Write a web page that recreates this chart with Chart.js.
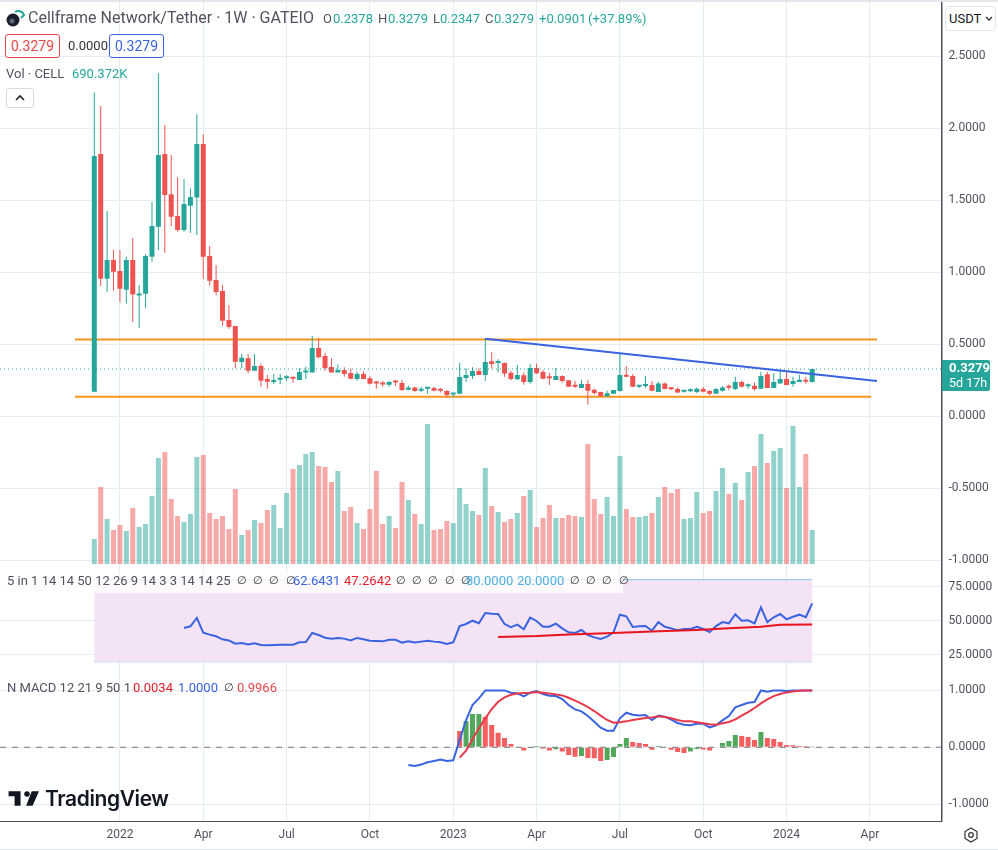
<!DOCTYPE html>
<html>
<head>
<meta charset="utf-8">
<title>Cellframe Network/Tether</title>
<script src="https://cdn.jsdelivr.net/npm/chart.js@4"></script>
<style>
html, body { margin: 0; padding: 0; background: #fff; }
body { width: 998px; height: 850px; position: relative; overflow: hidden; font-family: Roboto, sans-serif; color: #50535e; }
canvas { position: absolute; left: 0; }
.t { position: absolute; white-space: nowrap; line-height: 16px; font-size: 13px; }
.n { font-size: 11px; color: #333; word-spacing: 3.5px; }
.strip { position: absolute; left: 0; width: 998px; background: #e3e6ea; }
.pill { position: absolute; box-sizing: border-box; border: 1px solid; border-radius: 3px; height: 24px; width: 55px; text-align: center; line-height: 22px; font-size: 14px; background: #fff; }
</style>
</head>
<body>
<canvas id="pricePane" width="998" height="562" style="top:2px"></canvas>
<canvas id="rsiPane" width="998" height="108" style="top:564px"></canvas>
<canvas id="macdPane" width="998" height="177" style="top:672px"></canvas>

<div class="strip" style="top:0;height:2px"></div>
<div class="strip" style="top:849px;height:1px"></div>

<svg style="position:absolute;left:5px;top:8px" width="20" height="20" viewBox="0 0 20 20">
  <path d="M10 4 A6 6 0 0 1 19 7 L16 10" fill="none" stroke="#26a69a" stroke-width="2"/>
  <circle cx="8" cy="12" r="6.5" fill="#1c1f2b"/>
  <circle cx="7" cy="13" r="2.5" fill="#5b6478"/>
</svg>
<div class="t" style="left:28px;top:10px;font-size:16px">Cellframe Network/Tether · 1W · GATEIO</div>
<div class="t" style="left:323px;top:11px">O</div><div class="t" style="left:333px;top:11px;color:#26a69a">0.2378</div>
<div class="t" style="left:378px;top:11px">H</div><div class="t" style="left:388px;top:11px;color:#26a69a">0.3279</div>
<div class="t" style="left:433px;top:11px">L</div><div class="t" style="left:440px;top:11px;color:#26a69a">0.2347</div>
<div class="t" style="left:485px;top:11px">C</div><div class="t" style="left:494px;top:11px;color:#26a69a">0.3279</div>
<div class="t" style="left:539px;top:11px;color:#26a69a">+0.0901</div>
<div class="t" style="left:588px;top:11px;color:#26a69a">(+37.89%)</div>

<div class="pill" style="left:5px;top:34px;color:#e5484d;border-color:#e5484d">0.3279</div>
<div class="t" style="left:68px;top:38px;color:#333">0.0000</div>
<div class="pill" style="left:109px;top:34px;color:#3a63e0;border-color:#3a63e0">0.3279</div>

<div class="t" style="left:6px;top:66px">Vol · CELL</div>
<div class="t" style="left:72px;top:66px;color:#26a69a">690.372K</div>
<div style="position:absolute;left:6px;top:88px;width:28px;height:20px;box-sizing:border-box;border:1px solid #d6d8dc;border-radius:3px;background:#fff">
  <svg width="26" height="18" viewBox="0 0 26 18"><path d="M9 11 L13 7 L17 11" fill="none" stroke="#222" stroke-width="1.6"/></svg>
</div>

<div style="position:absolute;left:945px;top:6px;width:51px;height:25px;box-sizing:border-box;border:1px solid #e3e6ea;border-radius:4px;background:#fff"></div>
<div class="t" style="left:949px;top:11px;color:#131722">USDT</div>
<svg style="position:absolute;left:984px;top:15px" width="10" height="8" viewBox="0 0 10 8"><path d="M2 2 L5 5 L8 2" fill="none" stroke="#333" stroke-width="1.4"/></svg>

<div style="position:absolute;left:942px;top:360px;width:48px;height:31px;background:#26a69a;border-radius:0 2px 2px 0"></div>
<div class="t" style="left:949px;top:360px;color:#fff;font-weight:700">0.3279</div>
<div class="t" style="left:949px;top:375px;color:#fff;font-size:12.5px">5d 17h</div>

<div style="position:absolute;left:0;top:573px;width:623px;height:20px;background:rgba(255,255,255,.78)"></div>
<div class="t" style="left:7px;top:573px">5 in 1 14 14 50 12 26 9 14 3 3 14 14 25</div>
<div class="t n" style="left:237px;top:573px">∅ ∅ ∅ ∅</div>
<div class="t" style="left:293px;top:573px;color:#3a63e0">62.6431</div>
<div class="t" style="left:344px;top:573px;color:#e2222c">47.2642</div>
<div class="t n" style="left:396px;top:573px">∅ ∅ ∅ ∅ ∅</div>
<div class="t" style="left:466px;top:573px;color:#4fb0e0">80.0000</div>
<div class="t" style="left:517px;top:573px;color:#4fb0e0">20.0000</div>
<div class="t n" style="left:570px;top:573px">∅ ∅ ∅ ∅</div>

<div class="t" style="left:7px;top:680px">N MACD 12 21 9 50 1</div>
<div class="t" style="left:133px;top:680px;color:#e2222c">0.0034</div>
<div class="t" style="left:178px;top:680px;color:#3a63e0">1.0000</div>
<div class="t n" style="left:224px;top:680px">∅</div>
<div class="t" style="left:237px;top:680px;color:#e5484d">0.9966</div>

<svg style="position:absolute;left:8px;top:786px" width="32" height="24" viewBox="0 0 36 28">
  <path fill="#131722" d="M14 6H0v6h7v11h7V6zm14 17h-7.5L27 6h8.500L28 23zM21.5 6a3.2 3.2 0 1 1 0 6.400a3.2 3.200 0 0 1 0-6.400z"/>
</svg>
<div class="t" style="left:45px;top:787px;color:#131722;font-family:Inter,sans-serif;font-weight:600;font-size:21px;line-height:24px;letter-spacing:-.4px">TradingView</div>

<svg style="position:absolute;left:962px;top:826px" width="18" height="18" viewBox="0 0 18 18">
  <path d="M9 2 L15 5.500 V12.500 L9 16 L3 12.500 V5.500 Z" fill="none" stroke="#333" stroke-width="1.2"/>
  <circle cx="9" cy="9" r="2.300" fill="none" stroke="#333" stroke-width="1.2"/>
</svg>

<script>
const tickIndex = [4, 17, 30, 43, 56, 69, 82, 95, 108, 121];
const tickLabels = ["2022", "Apr", "Jul", "Oct", "2023", "Apr", "Jul", "Oct", "2024", "Apr"];
const priceTicks = [2.5, 2, 1.5, 1, 0.5, 0, -0.5, -1];
const rsiTicks = [75, 50, 25];
const macdTicks = [1, 0, -1];

// weekly candles, first one is dec-21
const opens = [0.17, 1.822, 0.955, 1.085, 1.009, 0.879, 1.085, 0.838, 0.851, 1.108, 1.317, 1.822, 1.542, 1.391, 1.294, 1.463, 1.519, 1.892, 1.113, 0.946, 0.87, 0.668, 0.627, 0.377, 0.402, 0.316, 0.349, 0.258, 0.238, 0.254, 0.263, 0.268, 0.252, 0.303, 0.303, 0.474, 0.418, 0.342, 0.303, 0.321, 0.3, 0.258, 0.293, 0.263, 0.235, 0.228, 0.219, 0.24, 0.231, 0.184, 0.2, 0.177, 0.191, 0.196, 0.184, 0.175, 0.15, 0.156, 0.265, 0.279, 0.314, 0.286, 0.381, 0.37, 0.37, 0.302, 0.256, 0.284, 0.238, 0.335, 0.307, 0.268, 0.252, 0.279, 0.249, 0.212, 0.196, 0.224, 0.184, 0.168, 0.138, 0.156, 0.175, 0.282, 0.279, 0.205, 0.21, 0.217, 0.168, 0.228, 0.196, 0.189, 0.17, 0.173, 0.168, 0.189, 0.175, 0.156, 0.177, 0.205, 0.189, 0.238, 0.208, 0.212, 0.191, 0.291, 0.196, 0.228, 0.258, 0.224, 0.238, 0.252, 0.2378];
const highs = [2.25, 2.155, 1.426, 1.155, 1.155, 1.108, 1.238, 0.912, 1.125, 1.489, 2.385, 2.023, 1.815, 1.66, 1.648, 1.583, 2.098, 1.959, 1.183, 1.05, 0.912, 0.773, 0.627, 0.432, 0.432, 0.432, 0.367, 0.286, 0.293, 0.293, 0.286, 0.275, 0.333, 0.344, 0.557, 0.541, 0.44, 0.402, 0.36, 0.34, 0.332, 0.309, 0.312, 0.279, 0.245, 0.245, 0.247, 0.252, 0.252, 0.212, 0.205, 0.205, 0.196, 0.203, 0.194, 0.182, 0.161, 0.372, 0.333, 0.34, 0.333, 0.541, 0.444, 0.395, 0.374, 0.316, 0.356, 0.302, 0.363, 0.367, 0.321, 0.302, 0.335, 0.284, 0.252, 0.245, 0.252, 0.252, 0.191, 0.17, 0.177, 0.182, 0.437, 0.349, 0.293, 0.219, 0.279, 0.245, 0.24, 0.235, 0.203, 0.2, 0.184, 0.194, 0.2, 0.203, 0.18, 0.194, 0.21, 0.221, 0.275, 0.247, 0.228, 0.235, 0.309, 0.307, 0.298, 0.325, 0.309, 0.275, 0.286, 0.275, 0.3279];
const lows = [0.17, 0.905, 0.863, 0.872, 0.794, 0.782, 0.655, 0.615, 0.752, 1.074, 1.155, 1.136, 1.322, 1.282, 1.282, 1.275, 1.259, 0.955, 0.909, 0.842, 0.629, 0.608, 0.333, 0.333, 0.298, 0.316, 0.205, 0.191, 0.224, 0.224, 0.247, 0.233, 0.252, 0.258, 0.303, 0.402, 0.316, 0.303, 0.303, 0.275, 0.256, 0.247, 0.256, 0.221, 0.191, 0.205, 0.205, 0.21, 0.175, 0.18, 0.168, 0.168, 0.154, 0.173, 0.164, 0.131, 0.133, 0.156, 0.238, 0.258, 0.284, 0.247, 0.333, 0.305, 0.275, 0.249, 0.252, 0.219, 0.226, 0.293, 0.256, 0.217, 0.252, 0.233, 0.203, 0.196, 0.196, 0.08, 0.15, 0.136, 0.133, 0.156, 0.17, 0.272, 0.203, 0.194, 0.196, 0.173, 0.168, 0.187, 0.182, 0.161, 0.163, 0.168, 0.159, 0.166, 0.147, 0.156, 0.17, 0.182, 0.182, 0.2, 0.191, 0.177, 0.191, 0.196, 0.196, 0.228, 0.217, 0.205, 0.238, 0.226, 0.2347];
const closes = [1.808, 0.955, 1.085, 1.004, 0.886, 1.085, 0.845, 0.849, 1.113, 1.322, 1.815, 1.537, 1.386, 1.294, 1.475, 1.523, 1.892, 1.108, 0.942, 0.863, 0.664, 0.62, 0.379, 0.407, 0.316, 0.349, 0.247, 0.24, 0.252, 0.261, 0.268, 0.261, 0.307, 0.309, 0.474, 0.409, 0.333, 0.303, 0.321, 0.293, 0.261, 0.293, 0.258, 0.226, 0.228, 0.221, 0.238, 0.235, 0.182, 0.2, 0.175, 0.191, 0.196, 0.177, 0.177, 0.147, 0.161, 0.272, 0.286, 0.314, 0.286, 0.377, 0.363, 0.374, 0.296, 0.258, 0.286, 0.238, 0.335, 0.298, 0.261, 0.263, 0.279, 0.245, 0.205, 0.205, 0.224, 0.177, 0.161, 0.138, 0.159, 0.182, 0.286, 0.275, 0.205, 0.212, 0.212, 0.177, 0.228, 0.189, 0.187, 0.164, 0.177, 0.177, 0.191, 0.17, 0.156, 0.189, 0.2, 0.198, 0.238, 0.205, 0.212, 0.189, 0.279, 0.196, 0.238, 0.258, 0.217, 0.245, 0.254, 0.24, 0.3279];

// thousands of CELL
const volumes = [508, 1564, 914, 690, 792, 670, 1137, 751, 812, 1381, 2153, 2275, 1320, 975, 853, 1015, 2173, 2214, 1036, 914, 975, 711, 1523, 589, 690, 894, 833, 1097, 1198, 731, 1442, 1929, 2011, 2234, 2275, 1990, 1970, 1665, 1889, 1076, 1158, 833, 711, 1117, 1889, 812, 975, 731, 1665, 1300, 1015, 812, 2843, 690, 711, 873, 833, 1544, 1219, 1076, 995, 1950, 1178, 1056, 853, 914, 1036, 1381, 1503, 751, 934, 1198, 934, 934, 995, 975, 955, 2437, 1320, 1015, 1361, 975, 2193, 1117, 955, 955, 975, 1036, 1361, 1564, 1442, 1523, 914, 934, 1462, 1036, 1076, 1483, 1950, 1422, 1645, 1300, 1869, 1990, 2640, 2051, 2295, 2356, 1544, 2803, 1564, 2234, 690];

const lastPrice = [0.3279];
const topLineX = [-3, 122.1];
const topLineY = [0.533, 0.533];
const bottomLineX = [-3, 121.2];
const bottomLineY = [0.135, 0.135];
const trendLineX = [61, 122.1];
const trendLineY = [0.538, 0.2446];

// rsi starts at bar 14
const rsiStart = 14;
const rsiValues = [44.7, 45.9, 52, 41.3, 39.8, 38.6, 36.4, 35.6, 33.2, 33.7, 32.7, 33.5, 32.2, 32, 32.2, 32.5, 32.5, 32.5, 34.2, 34.4, 41, 39.5, 37.6, 36.9, 37.4, 36.9, 35.6, 37.4, 36.4, 35.4, 35.2, 34.9, 36.1, 36.1, 34, 34.9, 34, 34.7, 35.4, 34.7, 34.2, 33, 34.2, 46.1, 47.6, 50, 48.1, 55.6, 55.1, 54.9, 47.6, 45.2, 47.1, 43.7, 52.2, 49.8, 45.6, 45.6, 47.8, 44.4, 41.5, 41, 43.2, 39.5, 37.8, 36.6, 38.3, 41.5, 54.4, 53.2, 45.4, 45.9, 46.1, 42.7, 49, 45.6, 44.4, 43, 43.9, 43.9, 45.6, 43.9, 41.7, 46.1, 49, 48.1, 54.7, 50, 50.3, 48.1, 59.8, 49, 52.5, 54.9, 51, 52.9, 54.4, 52.5, 62.64];
const rsiAvgX = [63, 69, 74, 81, 88, 94, 99, 104, 107, 112];
const rsiAvgY = [38.1, 38.8, 40, 41, 42.2, 43.2, 44.4, 45.6, 47.1, 47.26];
const rsiBandX = [0, 112];
const rsiBandTop = [80, 80];
const rsiBandBottom = [20, 20];

// macd line starts at bar 49, signal and histogram at bar 57
const macdStart = 49;
const macdValues = [-0.31, -0.327, -0.304, -0.263, -0.24, -0.216, -0.24, -0.228, 0.129, 0.48, 0.743, 0.86, 1, 1, 1, 1, 0.96, 0.947, 0.895, 0.96, 0.988, 0.936, 0.906, 0.9, 0.848, 0.743, 0.667, 0.632, 0.55, 0.45, 0.345, 0.292, 0.292, 0.509, 0.608, 0.573, 0.561, 0.567, 0.48, 0.556, 0.538, 0.485, 0.427, 0.398, 0.386, 0.415, 0.415, 0.351, 0.386, 0.474, 0.55, 0.702, 0.743, 0.784, 0.795, 1, 0.977, 1, 1, 0.988, 0.998, 1, 1, 1];
const signalStart = 57;
const signalValues = [-0.181, -0.058, 0.14, 0.333, 0.509, 0.673, 0.801, 0.877, 0.924, 0.947, 0.953, 0.96, 0.971, 0.959, 0.947, 0.93, 0.912, 0.871, 0.819, 0.766, 0.708, 0.637, 0.556, 0.48, 0.433, 0.439, 0.456, 0.48, 0.497, 0.515, 0.526, 0.544, 0.532, 0.509, 0.48, 0.456, 0.456, 0.439, 0.421, 0.404, 0.398, 0.421, 0.444, 0.491, 0.556, 0.62, 0.69, 0.772, 0.842, 0.9, 0.936, 0.965, 0.982, 0.994, 0.9966, 0.9966];
const histValues = [0.287, 0.462, 0.585, 0.585, 0.538, 0.392, 0.257, 0.164, 0.058, 0.01, -0.058, -0.005, 0.023, -0.023, -0.058, -0.035, -0.076, -0.135, -0.164, -0.152, -0.187, -0.193, -0.24, -0.222, -0.17, 0.058, 0.164, 0.094, 0.076, 0.058, -0.041, 0.023, -0.006, -0.041, -0.082, -0.099, -0.076, -0.03, -0.04, -0.058, -0.006, 0.076, 0.111, 0.216, 0.199, 0.181, 0.129, 0.269, 0.164, 0.146, 0.094, 0.041, 0.038, 0.023, 0.02, 0.0034];
const zeroLineY = [0, 0];

const UP = '#26a69a';
const DOWN = '#ef5350';
const BLUE = '#3a63e0';
const GRID = '#e4edf2';
const TEXT = '#50535e';
const X_MIN = -14.71;
const X_MAX = 132.17;

const points = (xs, ys) => xs.map((x, i) => ({ x: x, y: ys[i] }));
const fromBar = (start, ys) => ys.map((y, i) => ({ x: start + i, y: y }));
const isUp = (i) => closes[i] >= opens[i];

// tick labels must not push the plot area in, panes have to line up
const noPadding = (scale) => {
    scale.paddingTop = 0;
    scale.paddingBottom = 0;
    scale.paddingLeft = 0;
    scale.paddingRight = 0;
};

const lineSet = (data, color, width, extra) => Object.assign({
    type: 'line',
    data: data,
    borderColor: color,
    borderWidth: width,
    pointRadius: 0,
    tension: 0,
    order: 1
}, extra);

const xAxis = (showLabels, borderColor) => ({
    type: 'linear',
    min: X_MIN,
    max: X_MAX,
    offset: false,
    grid: { color: GRID, offset: false, drawTicks: false },
    border: { color: borderColor, width: 1 },
    afterBuildTicks: (scale) => {
        scale.ticks = tickIndex.map(v => ({ value: v }));
    },
    afterFit: (scale) => {
        scale.height = showLabels ? 28 : 0;
        noPadding(scale);
    },
    ticks: {
        display: showLabels,
        autoSkip: false,
        maxRotation: 0,
        padding: 7,
        color: TEXT,
        font: { family: 'Roboto', size: 12 },
        callback: (v) => tickLabels[tickIndex.indexOf(v)]
    }
});

const yAxis = (min, max, tickList) => ({
    position: 'right',
    min: min,
    max: max,
    grid: { color: GRID, drawTicks: false },
    border: { color: TEXT, width: 1.5 },
    afterBuildTicks: (scale) => {
        scale.ticks = tickList.map(v => ({ value: v }));
    },
    afterFit: (scale) => {
        scale.width = 56.5;
        noPadding(scale);
    },
    ticks: {
        padding: 7,
        color: TEXT,
        font: { family: 'Roboto', size: 12 },
        callback: (v) => v.toFixed(4)
    }
});

const baseOptions = () => ({
    responsive: false,
    animation: false,
    devicePixelRatio: 1,
    layout: { padding: 0 },
    plugins: { legend: { display: false }, tooltip: { enabled: false } }
});

const createPriceChart = (id) => {
    const ctx = document.getElementById(id);
    new Chart(ctx, {
        type: 'bar',
        data: {
            datasets: [{
                label: 'Vol',
                data: volumes.map((v, i) => ({ x: i, y: v })),
                yAxisID: 'vol',
                backgroundColor: volumes.map((v, i) => isUp(i) ? 'rgba(38,166,154,.5)' : 'rgba(239,83,80,.5)'),
                barThickness: 5,
                grouped: false,
                inflateAmount: 0,
                order: 5
            },
            lineSet(points(topLineX, topLineY), '#f7941d', 2, { order: 4 }),
            lineSet(points(bottomLineX, bottomLineY), '#f7941d', 2, { order: 4 }),
            {
                label: 'wick',
                data: highs.map((h, i) => ({ x: i, y: [lows[i], h] })),
                backgroundColor: highs.map((h, i) => isUp(i) ? UP : DOWN),
                barThickness: 1,
                grouped: false,
                inflateAmount: 0,
                order: 3
            },
            {
                label: 'body',
                data: opens.map((o, i) => ({ x: i, y: [o, closes[i]] })),
                backgroundColor: opens.map((o, i) => isUp(i) ? UP : DOWN),
                barThickness: 5,
                minBarLength: 2,
                grouped: false,
                inflateAmount: 0,
                order: 2
            },
            lineSet(points(trendLineX, trendLineY), BLUE, 2, { order: 1 }),
            lineSet(points([X_MIN, X_MAX], [lastPrice[0], lastPrice[0]]), UP, 1, { borderDash: [1, 3], order: 1 })
            ]
        },
        options: Object.assign(baseOptions(), {
            scales: {
                x: xAxis(false, '#d3dbe1'),
                y: yAxis(-1.0271, 2.8784, priceTicks),
                vol: { display: false, min: 0, max: 11409 }
            }
        })
    });
}

const createRsiChart = (id) => {
    const ctx = document.getElementById(id);
    new Chart(ctx, {
        type: 'line',
        data: {
            datasets: [
                lineSet(points(rsiBandX, rsiBandTop), '#8cc4e8', 1, { fill: '+1', backgroundColor: '#f3e3f4', order: 4 }),
                lineSet(points(rsiBandX, rsiBandBottom), '#8cc4e8', 1, { order: 4 }),
                lineSet(fromBar(rsiStart, rsiValues), BLUE, 2, { order: 2 }),
                lineSet(points(rsiAvgX, rsiAvgY), '#e8141e', 2, { order: 1 })
            ]
        },
        options: Object.assign(baseOptions(), {
            scales: {
                x: xAxis(false, '#d3dbe1'),
                y: yAxis(12.5, 91.45, rsiTicks)
            }
        })
    });
}

const createMacdChart = (id) => {
    const ctx = document.getElementById(id);
    new Chart(ctx, {
        type: 'bar',
        data: {
            datasets: [
                lineSet(points([X_MIN, X_MAX], zeroLineY), '#787b86', 1, { borderDash: [6, 6], order: 4 }),
                {
                    label: 'Histogram',
                    data: fromBar(signalStart, histValues),
                    backgroundColor: histValues.map((v, i) => i > 0 && v >= histValues[i - 1] ? '#52a85a' : '#f55f5f'),
                    barThickness: 5,
                    grouped: false,
                    inflateAmount: 0,
                    order: 3
                },
                lineSet(fromBar(macdStart, macdValues), BLUE, 2, { order: 2 }),
                lineSet(fromBar(signalStart, signalValues), '#e8394a', 2, { order: 1 })
            ]
        },
        options: Object.assign(baseOptions(), {
            scales: {
                x: xAxis(true, TEXT),
                y: yAxis(-1.2953, 1.3234, macdTicks)
            }
        })
    });
}

createPriceChart('pricePane');
createRsiChart('rsiPane');
createMacdChart('macdPane');
</script>
</body>
</html>
